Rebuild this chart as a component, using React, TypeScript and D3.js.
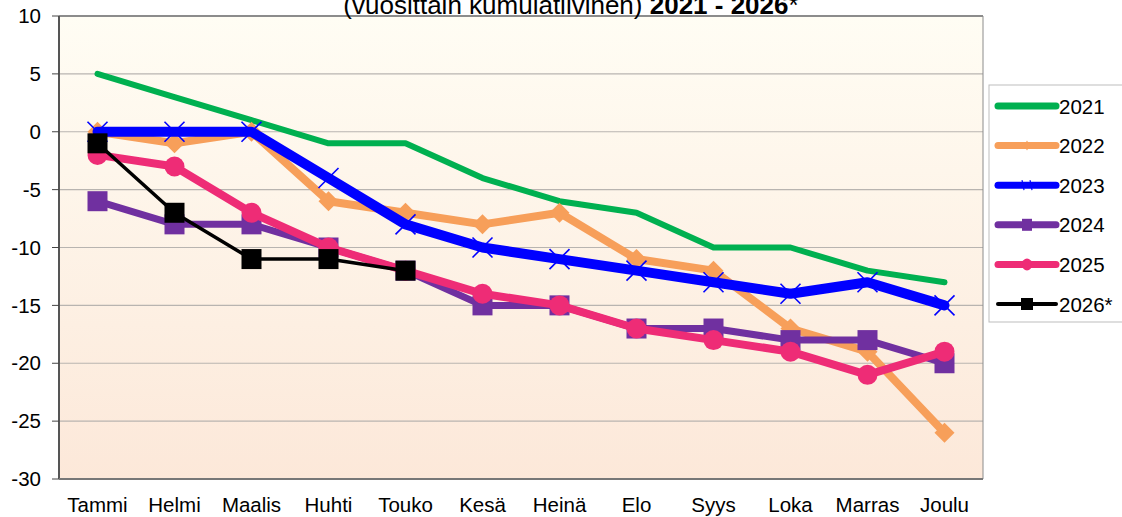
import React from "react";
import * as d3 from "d3";

const months = ["Tammi", "Helmi", "Maalis", "Huhti", "Touko", "Kesä", "Heinä", "Elo", "Syys", "Loka", "Marras", "Joulu"];
const yTicks = [10, 5, 0, -5, -10, -15, -20, -25, -30];

const v2021 = [5, 3, 1, -1, -1, -4, -6, -7, -10, -10, -12, -13];
const v2022 = [0, -1, 0, -6, -7, -8, -7, -11, -12, -17, -19, -26];
const v2023 = [0, 0, 0, -4, -8, -10, -11, -12, -13, -14, -13, -15];
const v2024 = [-6, -8, -8, -10, -12, -15, -15, -17, -17, -18, -18, -20];
const v2025 = [-2, -3, -7, -10, -12, -14, -15, -17, -18, -19, -21, -19];
const v2026 = [-1, -7, -11, -11, -12];

type Marker = "none" | "diamond" | "x" | "square" | "circle" | "bigsquare";
const series: { name: string; values: number[]; color: string; width: number; marker: Marker }[] = [
  { name: "2021", values: v2021, color: "#00B050", width: 6, marker: "none" },
  { name: "2022", values: v2022, color: "#F79F5A", width: 8, marker: "diamond" },
  { name: "2023", values: v2023, color: "#0000FF", width: 10, marker: "x" },
  { name: "2024", values: v2024, color: "#7030A0", width: 7, marker: "square" },
  { name: "2025", values: v2025, color: "#EE2C76", width: 8, marker: "circle" },
  { name: "2026*", values: v2026, color: "#000000", width: 3.5, marker: "bigsquare" },
];

const W = 1122, H = 517;
const L = 59, R = 983, T = 16, B = 479;
const FS = 20.5;

function MarkerShape({ m, x, y, color }: { m: Marker; x: number; y: number; color: string }) {
  if (m === "diamond") {
    const s = 10;
    return <path d={`M${x},${y - s}L${x + s},${y}L${x},${y + s}L${x - s},${y}Z`} fill={color} />;
  }
  if (m === "x") {
    const s = 10;
    return (
      <g stroke={color} strokeWidth={1.6}>
        <line x1={x - s} y1={y - s} x2={x + s} y2={y + s} />
        <line x1={x - s} y1={y + s} x2={x + s} y2={y - s} />
      </g>
    );
  }
  if (m === "square") {
    const s = 10;
    return <rect x={x - s} y={y - s} width={2 * s} height={2 * s} fill={color} />;
  }
  if (m === "circle") {
    return <circle cx={x} cy={y} r={10} fill={color} />;
  }
  if (m === "bigsquare") {
    const s = 10;
    return <rect x={x - s} y={y - s} width={2 * s} height={2 * s} fill={color} />;
  }
  return null;
}

export default function App() {
  const x = d3.scaleBand<string>().domain(months).range([L, R]);
  const y = d3.scaleLinear().domain([-30, 10]).range([B, T]);
  const cx = (i: number) => (x(months[i]) as number) + x.bandwidth() / 2;
  const line = d3.line<number>().x((_, i) => cx(i)).y((d) => y(d));

  const legendX = 989, legendY = 85;
  const legendStep = 39.6;

  return (
    <svg width={W} height={H} style={{ position: "absolute", left: 0, top: 0, fontFamily: "'Liberation Sans', Arial, sans-serif" }}>
      <defs>
        <linearGradient id="bg" x1="0" y1="0" x2="0" y2="1">
          <stop offset="0%" stopColor="#FFFDF4" />
          <stop offset="100%" stopColor="#FCE8D9" />
        </linearGradient>
      </defs>
      <rect x={0} y={0} width={W} height={H} fill="#fff" />
      <rect x={L} y={T} width={R - L} height={B - T} fill="url(#bg)" />
      {yTicks.map((t) => (
        <line key={t} x1={L} x2={R} y1={y(t)} y2={y(t)} stroke="#B8B4B0" strokeWidth={1.2} />
      ))}
      <line x1={L} x2={R} y1={T} y2={T} stroke="#8C8C8C" strokeWidth={2} />
      <line x1={R} x2={R} y1={T} y2={B} stroke="#8C8C8C" strokeWidth={1} />
      <line x1={L} x2={L} y1={T} y2={B} stroke="#555" strokeWidth={2} />
      <line x1={L} x2={R} y1={B} y2={B} stroke="#777" strokeWidth={2} />
      {yTicks.map((t) => (
        <g key={"t" + t}>
          <line x1={L - 7} x2={L} y1={y(t)} y2={y(t)} stroke="#444" strokeWidth={1} />
          <text x={41} y={y(t) + 7.2} textAnchor="end" fontSize={FS} fill="#000">{t}</text>
        </g>
      ))}
      {months.map((m, i) => (
        <text key={m} x={cx(i)} y={512} textAnchor="middle" fontSize={FS} fill="#000">{m}</text>
      ))}
      {series.map((s) => (
        <g key={s.name}>
          <path d={line(s.values) || ""} fill="none" stroke={s.color} strokeWidth={s.width} strokeLinejoin="round" strokeLinecap="round" />
          {s.values.map((v, i) => (
            <MarkerShape key={i} m={s.marker} x={cx(i)} y={y(v)} color={s.color} />
          ))}
        </g>
      ))}
      <text x={571} y={14} textAnchor="middle" fontSize={26} fill="#000">
        (vuosittain kumulatiivinen) <tspan fontWeight="bold">2021 - 2026</tspan>*
      </text>
      <rect x={legendX} y={legendY} width={140} height={237} fill="#fff" stroke="#BDBDBD" strokeWidth={1} />
      {series.map((s, i) => {
        const ly = legendY + 21 + i * legendStep;
        const x1 = 998, x2 = 1056, xm = (x1 + x2) / 2;
        let mk: React.ReactNode = null;
        if (s.marker === "diamond") mk = <path d={`M${xm},${ly - 5}L${xm + 3},${ly}L${xm},${ly + 5}L${xm - 3},${ly}Z`} fill={s.color} />;
        if (s.marker === "x") mk = (
          <g stroke={s.color} strokeWidth={1.2}>
            <line x1={xm - 5} y1={ly - 5} x2={xm - 3} y2={ly + 5} />
            <line x1={xm + 3} y1={ly - 5} x2={xm + 5} y2={ly + 5} />
          </g>
        );
        if (s.marker === "square") mk = <rect x={xm - 5} y={ly - 6} width={10} height={12} fill={s.color} />;
        if (s.marker === "circle") mk = <ellipse cx={xm} cy={ly} rx={5} ry={6} fill={s.color} />;
        if (s.marker === "bigsquare") mk = <rect x={xm - 6} y={ly - 6} width={12} height={12} fill={s.color} />;
        return (
          <g key={"lg" + s.name}>
            <line x1={x1} x2={x2} y1={ly} y2={ly} stroke={s.color} strokeWidth={s.name === "2026*" ? 4 : 7} strokeLinecap="round" />
            {mk}
            <text x={1059} y={ly + 7.5} fontSize={FS} fill="#000">{s.name}</text>
          </g>
        );
      })}
    </svg>
  );
}
